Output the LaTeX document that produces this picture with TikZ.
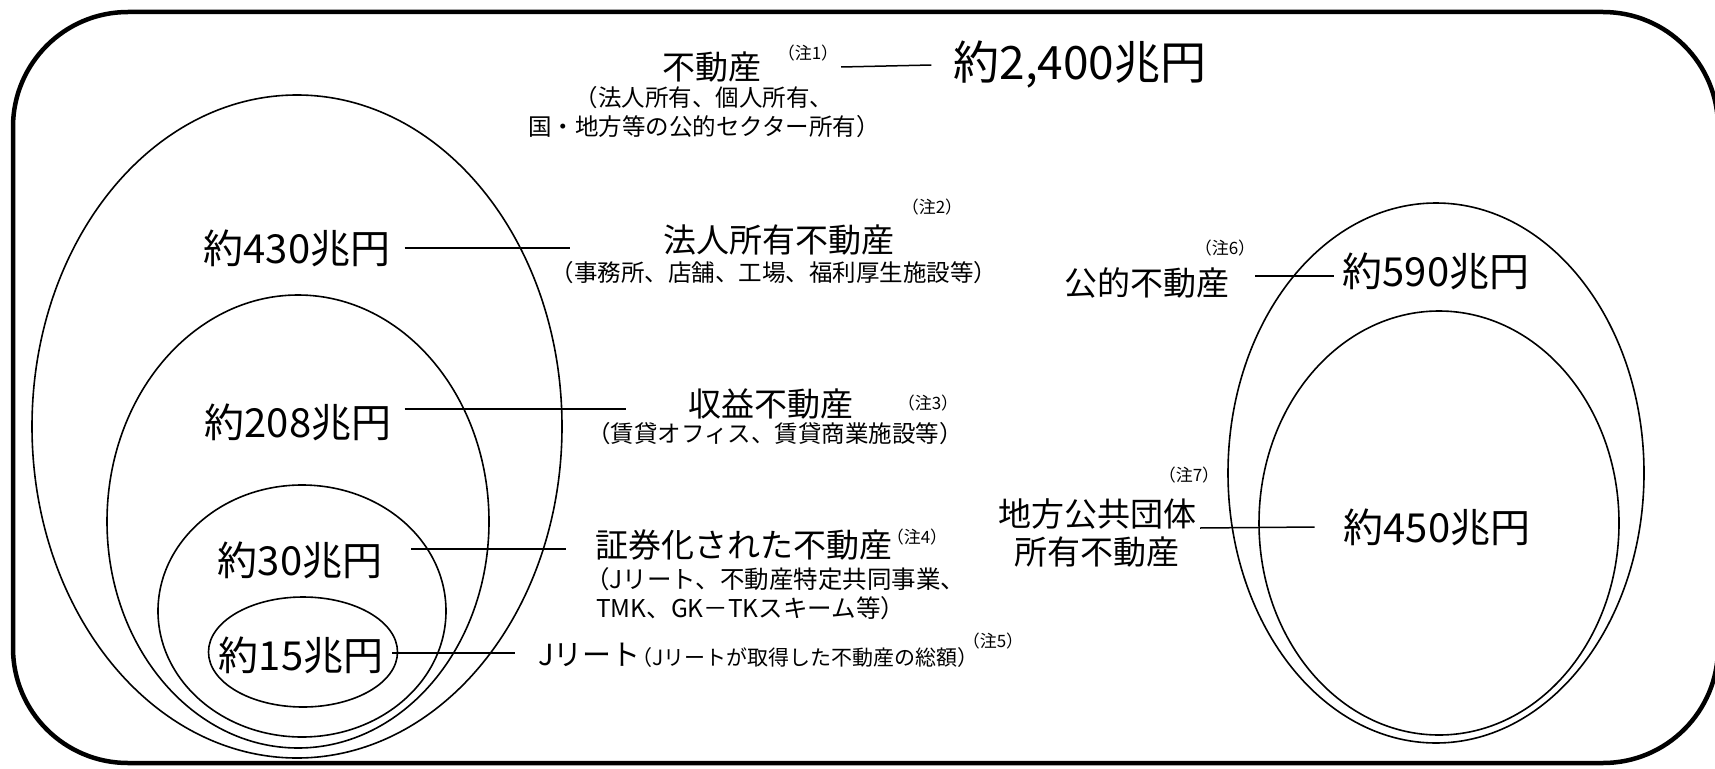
\documentclass[tikz,border=0pt]{standalone}
\usepackage{fontspec}
\usepackage{tikz}
\usetikzlibrary{
  positioning,
  calc
}
\newfontfamily\jpfont{Noto Sans CJK JP}
\definecolor{reInk}{HTML}{000000}
\tikzset{
  retext/.style={inner sep=0pt, text=reInk},
  reamount/.style={retext, font={\jpfont\fontsize{40}{44}\selectfont}},
  retotal/.style={retext, font={\jpfont\fontsize{46}{50}\selectfont}},
  retitle/.style={retext, align=center, font={\jpfont\fontsize{33}{38}\selectfont}},
  resub/.style={retext, align=center, font={\jpfont\fontsize{23.5}{29}\selectfont}},
  resmall/.style={retext, font={\jpfont\fontsize{21}{24}\selectfont}},
  renote/.style={retext, font={\jpfont\fontsize{17}{19}\selectfont}},
  leader/.style={draw=reInk, line width=1.5pt},
  ring/.style={draw=reInk, line width=1.6pt},
  outerframe/.style={draw=reInk, line width=4.5pt, rounded corners=115pt}
}

\begin{document}
\begin{tikzpicture}[x=1pt, y=-1pt]
  \path[use as bounding box, fill=white] (0,0) rectangle (1715,768);
  \draw[outerframe] (13,12) rectangle (1718,763);
  % left nest of sets
  \draw[ring] (297,426.5) ellipse [x radius=265, y radius=331.5];
  \draw[ring] (298,521.5) ellipse [x radius=191, y radius=226.5];
  \draw[ring] (302,611) ellipse [x radius=144, y radius=126];
  \draw[ring] (303,652) ellipse [x radius=94.5, y radius=55];
  % right nest of sets
  \draw[ring] (1436,473) ellipse [x radius=208, y radius=270];
  \draw[ring] (1439,523) ellipse [x radius=180, y radius=212];

  % headline
  \node[retitle] (fudosan) at (712,67) {不動産};
  \node[renote] (n1) at (808,53) {（注1）};
  \node[resub] (fudosansub) at (704,112) {（法人所有、個人所有、\\国・地方等の公的セクター所有）};
  \node[retotal] (total) at (1080,65) {約2,400兆円};
  \coordinate (c1) at (841,67);
  \draw[leader] (c1) -- ([xshift=-22pt]total.west);

  % amounts in the left nest
  \node[reamount] (a430) at (297,248) {約430兆円};
  \node[reamount] (a208) at (298,422) {約208兆円};
  \node[reamount] (a30) at (300,560) {約30兆円};
  \node[reamount] (a15) at (301,655) {約15兆円};

  % labels of the left nest
  \node[retitle] (hojin) at (779,240) {法人所有不動産};
  \node[renote] (n2) at (932,207) {（注2）};
  \node[resub] (hojinsub) at (774,273) {（事務所、店舗、工場、福利厚生施設等）};
  \node[retitle] (shueki) at (771,404) {収益不動産};
  \node[renote] (n3) at (928,403) {（注3）};
  \node[resub] (shuekisub) at (775,434) {（賃貸オフィス、賃貸商業施設等）};
  \node[retitle, anchor=west] (shoken) at (595,545) {証券化された不動産};
  \node[renote] (n4) at (917,537) {（注4）};
  \node[resub, align=left, anchor=west, font={\jpfont\fontsize{24.5}{29}\selectfont}] (shokensub) at (596,593.5)
    {\hspace*{-11pt}（Jリート、不動産特定共同事業、\\TMK、GK－TKスキーム等）};
  \node[retext, anchor=west, font={\jpfont\fontsize{29}{34}\selectfont}] (jreit) at (538,655) {Jリート};
  \node[resmall, anchor=base west] (jreitsub) at ([xshift=-10pt]jreit.base east) {（Jリートが取得した不動産の総額）};
  \node[renote] (n5) at (993,641) {（注5）};

  \coordinate (c430) at (570,248);
  \coordinate (c208) at (626,409);
  \coordinate (c30) at (566,549);
  \coordinate (c15) at (515,653);
  \draw[leader] ([xshift=14pt]a430.east) -- (c430);
  \draw[leader] ([xshift=13pt, yshift=13pt]a208.east) -- (c208);
  \draw[leader] ([xshift=29pt, yshift=11pt]a30.east) -- (c30);
  \draw[leader] ([xshift=9pt, yshift=2pt]a15.east) -- (c15);

  % right nest: public real estate
  \node[reamount] (a590) at (1436,271) {約590兆円};
  \node[reamount] (a450) at (1437,527) {約450兆円};
  \node[retitle] (koteki) at (1147,283) {公的不動産};
  \node[renote] (n6) at (1225,248) {（注6）};
  \node[retitle] (chiho) at (1097,533) {地方公共団体\\所有不動産};
  \node[renote] (n7) at (1189,475) {（注7）};
  \coordinate (c590) at (1255,276);
  \coordinate (c450) at (1200,528);
  \draw[leader] (c590) -- ([xshift=-9pt, yshift=-5pt]a590.west);
  \draw[leader] (c450) -- ([xshift=-29pt]a450.west);
\end{tikzpicture}
\end{document}
